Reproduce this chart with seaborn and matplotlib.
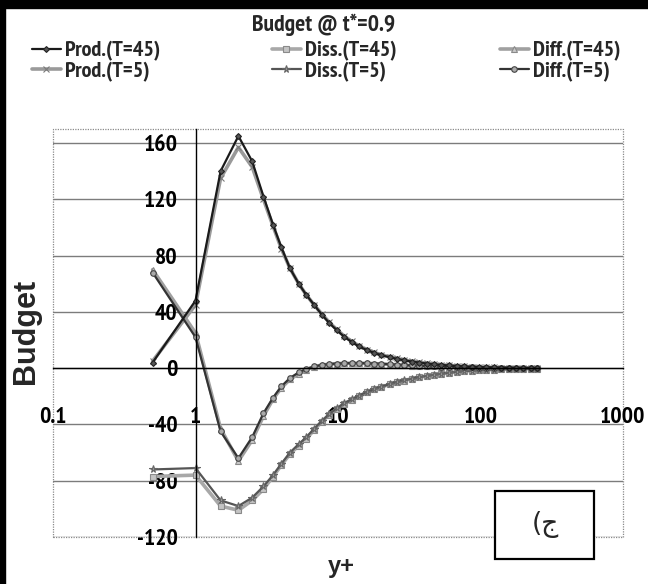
import os
import matplotlib
matplotlib.use("Agg")
import matplotlib.pyplot as plt
from matplotlib import font_manager as fm
from matplotlib.patches import Rectangle
from matplotlib.ticker import NullLocator
import seaborn as sns

# wall distance (y+) and budget terms at t* = 0.9
yplus = [0.5, 1.0, 1.5, 2.0, 2.5, 3.0, 3.5, 4.0, 4.6, 5.3, 6.0, 6.8, 7.7, 8.7, 9.8,
         11, 12.5, 14, 16, 18, 20, 23, 26, 29, 33, 37, 42, 47, 53, 60, 68, 77, 87,
         98, 110, 125, 140, 158, 178, 200, 225, 250]

prod_t45 = [4, 48, 140, 165, 147, 122, 102, 86, 71, 60, 52, 45, 38, 32, 27,
            22.5, 18.5, 15.5, 12.8, 10.8, 9.3, 7.8, 6.6, 5.6, 4.7, 4.0, 3.3, 2.8,
            2.3, 1.9, 1.55, 1.25, 1.0, 0.8, 0.65, 0.5, 0.4, 0.32, 0.25, 0.2, 0.15, 0.1]
prod_t5 = [5, 45, 135, 157, 143, 120, 101, 85, 71, 60, 52, 45, 38.5, 32.5, 27.5,
           23, 19, 16, 13.2, 11.2, 9.6, 8.1, 6.9, 5.8, 4.9, 4.2, 3.5, 2.9,
           2.4, 2.0, 1.6, 1.3, 1.05, 0.85, 0.68, 0.53, 0.42, 0.33, 0.26, 0.2, 0.15, 0.1]
diss_t45 = [-77, -76, -98, -101, -94, -86, -77, -69, -61, -55, -50, -44, -38, -33, -29,
            -25.5, -22.5, -20, -17, -15, -13.5, -11.5, -10, -8.8, -7.5, -6.5, -5.5, -4.7,
            -4.0, -3.3, -2.7, -2.2, -1.8, -1.5, -1.2, -1.0, -0.8, -0.7, -0.6, -0.5, -0.4, -0.3]
diss_t5 = [-72, -71, -94, -98, -92, -84, -76, -68, -60, -54, -49, -43, -37.5, -32.5, -28.5,
           -25, -22, -19.5, -16.8, -14.8, -13.2, -11.3, -9.8, -8.6, -7.4, -6.4, -5.4, -4.6,
           -3.9, -3.2, -2.6, -2.1, -1.7, -1.4, -1.15, -0.95, -0.78, -0.65, -0.55, -0.45, -0.35, -0.25]
diff_t45 = [70, 25, -43, -66, -51, -34, -22, -14, -8, -4, -1, 1, 2.2, 2.8, 3.2,
            3.4, 3.5, 3.5, 3.4, 3.2, 3.0, 2.7, 2.4, 2.1, 1.8, 1.6, 1.4, 1.2,
            1.0, 0.85, 0.7, 0.6, 0.5, 0.42, 0.36, 0.3, 0.25, 0.2, 0.16, 0.13, 0.1, 0.08]
diff_t5 = [68, 22, -45, -64, -49, -32, -21, -13, -7, -3, -0.5, 1.2, 2.3, 2.9, 3.3,
           3.5, 3.6, 3.6, 3.5, 3.3, 3.1, 2.8, 2.5, 2.2, 1.9, 1.7, 1.5, 1.3,
           1.1, 0.9, 0.75, 0.62, 0.52, 0.44, 0.37, 0.31, 0.26, 0.21, 0.17, 0.14, 0.11, 0.09]

x_ticks = [0.1, 1, 10, 100, 1000]
x_ticklabels = ["0.1", "1", "10", "100", "1000"]
y_ticks = [-120, -80, -40, 0, 40, 80, 120, 160]
y_ticklabels = ["-120", "-80", "-40", "0", "40", "80", "120", "160"]

title = "Budget @ t*=0.9"
panel_tag = "(ج"

sns.set_theme(style="white")

# pick a narrow bold face when one is available
narrow_path = None
for key in ("Narrow", "Condensed"):
    for f in fm.fontManager.ttflist:
        base = os.path.basename(f.fname)
        if key in base and "Bold" in base and "Italic" not in base and "Oblique" not in base:
            narrow_path = f.fname
            break
    if narrow_path:
        break
if narrow_path:
    def nfont(size):
        return fm.FontProperties(fname=narrow_path, size=size)
else:
    def nfont(size):
        return fm.FontProperties(family="Liberation Sans", weight="bold", size=size * 0.82)

W, H = 648, 584
fig = plt.figure(figsize=(W / 100, H / 100), dpi=100)
ax = fig.add_axes([53 / W, 1 - 537 / H, (623 - 53) / W, (537 - 129) / H])

series = [
    ("Diss.(T=45)", diss_t45, dict(color="#a8a8a8", marker="s", markersize=4, mfc="#c4c4c4", mec="#8a8a8a", lw=2.6)),
    ("Diff.(T=45)", diff_t45, dict(color="#a0a0a0", marker="^", markersize=4.5, mfc="#c8c8c8", mec="#8a8a8a", lw=2.6)),
    ("Prod.(T=5)", prod_t5, dict(color="#9a9a9a", marker="x", markersize=5, mec="#7a7a7a", lw=2.6)),
    ("Diss.(T=5)", diss_t5, dict(color="#555555", marker="*", markersize=5.5, mec="#666666", mfc="#999999", lw=1.6)),
    ("Diff.(T=5)", diff_t5, dict(color="#333333", marker="o", markersize=4, mfc="#aaaaaa", mec="#444444", lw=1.6)),
    ("Prod.(T=45)", prod_t45, dict(color="#1a1a1a", marker="D", markersize=3, mfc="#555555", mec="#222222", lw=1.6)),
]
handles = {}
for label, vals, style in series:
    sns.lineplot(x=yplus, y=vals, ax=ax, sort=False, estimator=None, legend=False,
                 markeredgewidth=0.8, **style)
    line = ax.lines[-1]
    line.set_label(label)
    handles[label] = line

ax.set_xscale("log")
ax.set_xlim(0.1, 1000)
ax.set_ylim(-120, 170)
ax.xaxis.set_minor_locator(NullLocator())

ax.yaxis.grid(True, color="#7c7c7c", lw=1.0)
ax.xaxis.grid(False)
ax.set_axisbelow(True)

for s in ("top", "right"):
    ax.spines[s].set_visible(False)
ax.spines["left"].set_position(("data", 1))
ax.spines["bottom"].set_position(("data", 0))
for s in ("left", "bottom"):
    ax.spines[s].set_color("black")
    ax.spines[s].set_linewidth(1.0)
ax.tick_params(axis="x", direction="out", length=4, width=1, color="black", pad=24)
ax.tick_params(axis="y", direction="out", length=4, width=1, color="black", pad=9)

ax.set_xticks(x_ticks)
ax.set_xticklabels(x_ticklabels, fontproperties=nfont(17), color="black")
ax.set_yticks(y_ticks)
ax.set_yticklabels(y_ticklabels, fontproperties=nfont(17), color="black")

# dotted plot-area border
ax.add_patch(Rectangle((0, 0), 1, 1, transform=ax.transAxes, fill=False,
                       ec="#8a8a8a", lw=0.9, ls=(0, (1, 1)), clip_on=False, zorder=0))

ax.set_xlabel("")
ax.set_ylabel("")
fig.text(26 / W, 1 - 331 / H, "Budget", rotation=90, ha="center", va="center",
         family="Liberation Sans", weight="bold", fontsize=22)
fig.text(341 / W, 1 - 567 / H, "y+", ha="center", va="center",
         family="Liberation Sans", weight="bold", fontsize=17)
fig.text(0.5, 1 - 25 / H, title, ha="center", va="center", fontproperties=nfont(17))

# legend: three columns, two rows
cols = [(32, ["Prod.(T=45)", "Prod.(T=5)"]),
        (272, ["Diss.(T=45)", "Diss.(T=5)"]),
        (500, ["Diff.(T=45)", "Diff.(T=5)"])]
for x0, labs in cols:
    fig.legend([handles[l] for l in labs], labs, loc="upper left",
               bbox_to_anchor=(x0 / W, 1 - 41 / H), bbox_transform=fig.transFigure,
               frameon=False, borderpad=0, borderaxespad=0, handlelength=1.3,
               handletextpad=0.2, labelspacing=0.0, prop=nfont(16))

# panel tag box
fig.add_artist(Rectangle((495 / W, 1 - 559 / H), 99 / W, 68 / H, transform=fig.transFigure,
                         fill=True, fc="white", ec="black", lw=1.6))
fig.text(545 / W, 1 - 525 / H, panel_tag, ha="center", va="center",
         family="DejaVu Sans", fontsize=19)

# black scan edges along top and left
fig.add_artist(Rectangle((0, 1 - 8 / H), 1, 8 / H, transform=fig.transFigure, color="black"))
fig.add_artist(Rectangle((0, 0), 5 / W, 1, transform=fig.transFigure, color="black"))

fig.savefig("out.png", dpi=100)
